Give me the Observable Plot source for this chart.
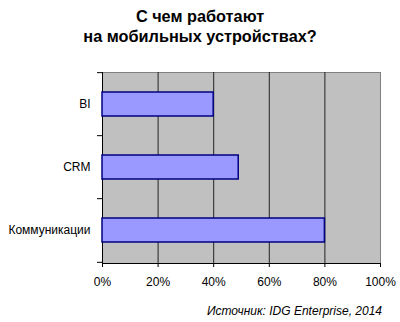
<!DOCTYPE html>
<html><head><meta charset="utf-8">
<script src="https://cdn.jsdelivr.net/npm/d3@7"></script>
<script src="https://cdn.jsdelivr.net/npm/@observablehq/plot@0.6"></script>
<style>
body{margin:0;background:#fff;font-family:"Liberation Sans",Arial,sans-serif;width:400px;height:322px;overflow:hidden}
#title{font-weight:bold;font-size:16.3px;line-height:20px;text-align:center;padding-top:6px;height:42px;color:#000}
#cap{font-style:italic;font-size:12px;line-height:14px;text-align:right;padding-right:18px;margin-top:11px;color:#000}
svg{display:block}
</style></head>
<body>
<div id="title">С чем работают<br>на мобильных устройствах?</div>
<div id="chart"></div>
<div id="cap">Источник: IDG Enterprise, 2014</div>
<script>
const categories = ["BI", "CRM", "Коммуникации"];
const values = [40, 49, 80];
const xTicks = [0, 20, 40, 60, 80, 100];
const gridTicks = [20, 40, 60, 80];

const data = categories.map((c, i) => ({cat: c, v: values[i]}));
const band = 191 / 3;
const chart = Plot.plot({
  width: 400, height: 245,
  marginLeft: 102, marginRight: 20, marginTop: 24, marginBottom: 30,
  style: {fontFamily: "Liberation Sans, Arial, sans-serif", fontSize: "12px", color: "#000", background: "#fff"},
  x: {domain: [0, 100], ticks: xTicks, tickFormat: d => d + "%", tickSize: 4, tickPadding: 10, label: null},
  y: {domain: categories, paddingInner: 0.615, paddingOuter: 0.3075, align: 0.5, tickSize: 0, tickPadding: 12, label: null},
  marks: [
    Plot.frame({fill: "#c0c0c0", stroke: "#808080"}),
    Plot.ruleX(gridTicks, {stroke: "#222", strokeWidth: 1}),
    Plot.frame({anchor: "left", stroke: "#000"}),
    Plot.frame({anchor: "bottom", stroke: "#000"}),
    Plot.ruleY(categories, {y: d => d, x1: () => -1.8, x2: () => 0, dy: -band / 2, stroke: "#000"}),
    Plot.ruleY(categories.slice(-1), {y: d => d, x1: () => -1.8, x2: () => 0, dy: band / 2, stroke: "#000"}),
    Plot.barX(data, {y: "cat", x: "v", fill: "#9999ff", stroke: "#000080", strokeWidth: 1.5}),
    Plot.axisX({ticks: xTicks, tickFormat: d => d + "%", tickSize: 4, tickPadding: 10, stroke: "#000"}),
    Plot.axisY({tickSize: 0, tickPadding: 12})
  ]
});
document.getElementById("chart").appendChild(chart);
</script>
</body></html>
